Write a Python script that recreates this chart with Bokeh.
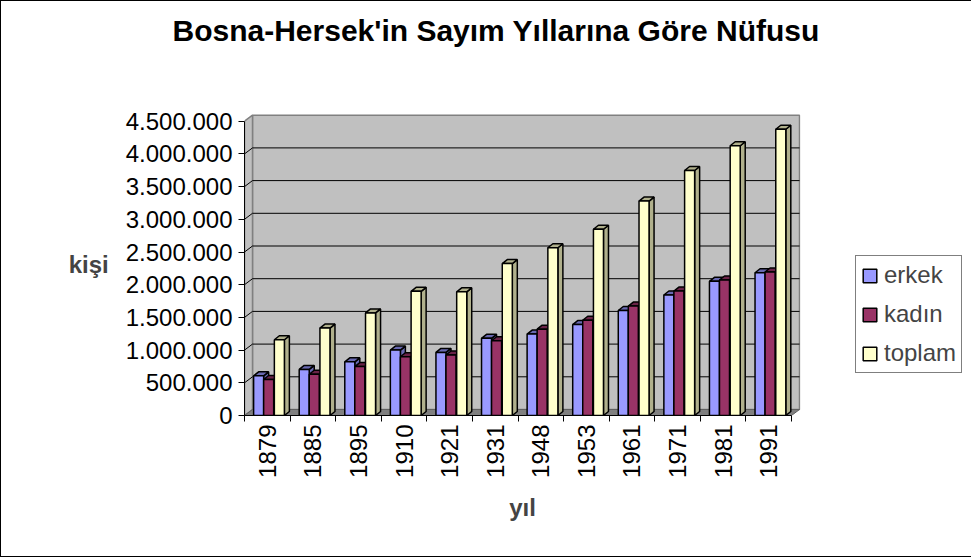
import math
from bokeh.plotting import figure
from bokeh.models import Range1d, FixedTicker, Legend, LegendItem, Title
from bokeh.embed import file_html
from bokeh.resources import INLINE

# ---- data -------------------------------------------------------------
years = ["1879", "1885", "1895", "1910", "1921", "1931",
         "1948", "1953", "1961", "1971", "1981", "1991"]
erkek = [607000, 705000, 820000, 1000000, 965000, 1180000,
         1245000, 1390000, 1605000, 1843000, 2052000, 2183000]
kadin = [551000, 631000, 748000, 898000, 925000, 1143000,
         1320000, 1457000, 1673000, 1903000, 2072000, 2194000]
toplam = [1158164, 1336091, 1568092, 1898044, 1890440, 2323555,
          2565277, 2847459, 3277948, 3746111, 4124256, 4377033]
series_names = ["erkek", "kadın", "toplam"]
y_ticks = [0, 500000, 1000000, 1500000, 2000000, 2500000,
           3000000, 3500000, 4000000, 4500000]
y_tick_labels = ["0", "500.000", "1.000.000", "1.500.000", "2.000.000",
                 "2.500.000", "3.000.000", "3.500.000", "4.000.000", "4.500.000"]
title_text = "Bosna-Hersek'in Sayım Yıllarına Göre Nüfusu"
x_title = "yıl"
y_title = "kişi"

# ---- styling / geometry ----------------------------------------------
FONT = "Liberation Sans"
front_colors = ["#9999FF", "#993366", "#FFFFCC"]
shade_colors = ["#6868B0", "#6A2347", "#B0B08C"]
W, H = 969, 557
LEFT, TOP = 244, 113
FW, FH = 556, 302
BOTTOM = H - TOP - FH
RIGHT = W - LEFT - FW
n = len(years)
CAT_PX = 547.0 / n
PX = 1.0 / CAT_PX                      # data units per pixel (x)
YMAX = y_ticks[-1]
PY = YMAX / 294.3                      # data units per pixel (y)
x_end = FW * PX
y_end = FH * PY
WDX, WDY = 8 * PX, 6 * PY              # wall depth
BDX, BDY = 5 * PX, 4 * PY              # bar depth
BW = 0.22
offsets = [0.31, 0.53, 0.765]

p = figure(frame_width=FW, frame_height=FH, output_backend="svg",
           toolbar_location=None, title=None,
           x_range=Range1d(0, x_end), y_range=Range1d(0, y_end),
           min_border_left=LEFT, min_border_right=RIGHT, min_border_top=TOP,
           min_border_bottom=BOTTOM)
p.background_fill_color = "white"
p.border_fill_color = None
p.outline_line_color = None
p.xgrid.visible = False
p.ygrid.visible = False
p.styles = {"box-shadow": "inset 0 0 0 1px black", "background-color": "white"}

# walls and floor
p.quad(left=[WDX], right=[n + WDX], bottom=[WDY], top=[YMAX + WDY],
       fill_color="#C0C0C0", line_color="#808080", line_width=1.5)
p.patch([0, 0, WDX, WDX], [0, YMAX, YMAX + WDY, WDY],
        fill_color="#C0C0C0", line_color="#808080", line_width=1.5)
p.patch([0, n, n + WDX, WDX], [0, 0, WDY, WDY],
        fill_color="#808080", line_color="#606060", line_width=1)

# gridlines on side + back wall
gx, gy = [], []
for v in y_ticks[1:-1]:
    gx.append([0, WDX, n + WDX])
    gy.append([v, v + WDY, v + WDY])
p.multi_line(gx, gy, line_color="black", line_width=1)

# bars: side and top faces first
series = [erkek, kadin, toplam]
pxs, pys, pcs = [], [], []
for i in range(n):
    for s, vals in enumerate(series):
        v = vals[i]
        x0 = i + offsets[s] - BW / 2
        x1 = i + offsets[s] + BW / 2
        pxs.append([x1, x1, x1 + BDX, x1 + BDX])
        pys.append([0, v, v + BDY, BDY])
        pcs.append(shade_colors[s])
        pxs.append([x0, x1, x1 + BDX, x0 + BDX])
        pys.append([v, v, v + BDY, v + BDY])
        pcs.append(shade_colors[s])
p.patches(pxs, pys, fill_color=pcs, line_color="black", line_width=1.5)

renderers = []
for s, vals in enumerate(series):
    xs = [i + offsets[s] for i in range(n)]
    r = p.vbar(x=xs, top=vals, bottom=0, width=BW, fill_color=front_colors[s],
               line_color="black", line_width=1.5)
    renderers.append(r)

# axes
ya = p.yaxis[0]
ya.bounds = (0, YMAX)
ya.ticker = FixedTicker(ticks=y_ticks, minor_ticks=[])
ya.major_label_overrides = {t: l for t, l in zip(y_ticks, y_tick_labels)}
ya.major_tick_out = 6
ya.major_tick_in = 0
ya.major_label_standoff = 6
ya.major_label_text_font = FONT
ya.major_label_text_font_size = "24px"
ya.major_label_text_color = "black"
ya.axis_line_color = "black"
ya.major_tick_line_color = "black"
ya.axis_label = y_title
ya.axis_label_orientation = "horizontal"
ya.axis_label_text_font = FONT
ya.axis_label_text_font_style = "bold"
ya.axis_label_text_font_size = "24px"
ya.axis_label_standoff = 14

xa = p.xaxis[0]
centers = [i + 0.5 for i in range(n)]
xa.bounds = (0, n)
xa.ticker = FixedTicker(ticks=centers, minor_ticks=list(range(n + 1)))
xa.major_label_overrides = {c: y for c, y in zip(centers, years)}
xa.major_tick_line_color = None
xa.major_tick_out = 6
xa.major_tick_in = 0
xa.minor_tick_line_color = "black"
xa.minor_tick_out = 6
xa.minor_tick_in = 0
xa.major_label_orientation = math.pi / 2
xa.major_label_standoff = 3
xa.major_label_text_font = FONT
xa.major_label_text_font_size = "24px"
xa.major_label_text_color = "black"
xa.axis_line_color = "black"
xa.axis_label = x_title
xa.axis_label_text_font = FONT
xa.axis_label_text_font_style = "bold"
xa.axis_label_text_font_size = "24px"
xa.axis_label_standoff = 13

# spacer between the title and the plot area, then the title itself
p.add_layout(Title(text=" ", standoff=51, text_font=FONT,
                   text_font_size="1px"), "above")
p.add_layout(Title(text=title_text, align="left", offset=-72,
                   vertical_align="top", standoff=22,
                   text_font=FONT, text_font_style="bold",
                   text_font_size="30px", text_color="black"), "above")

legend = Legend(items=[LegendItem(label=nm, renderers=[r])
                       for nm, r in zip(series_names, renderers)],
                location=(55, 42))
legend.label_text_font = FONT
legend.label_text_font_size = "24px"
legend.glyph_width = 17
legend.glyph_height = 17
legend.label_standoff = 6
legend.spacing = 11
legend.padding = 5
legend.margin = 0
legend.border_line_color = "black"
legend.border_line_width = 1
legend.background_fill_color = "white"
legend.background_fill_alpha = 1
p.add_layout(legend, "right")

open("out.html", "w").write(file_html(p, INLINE))
